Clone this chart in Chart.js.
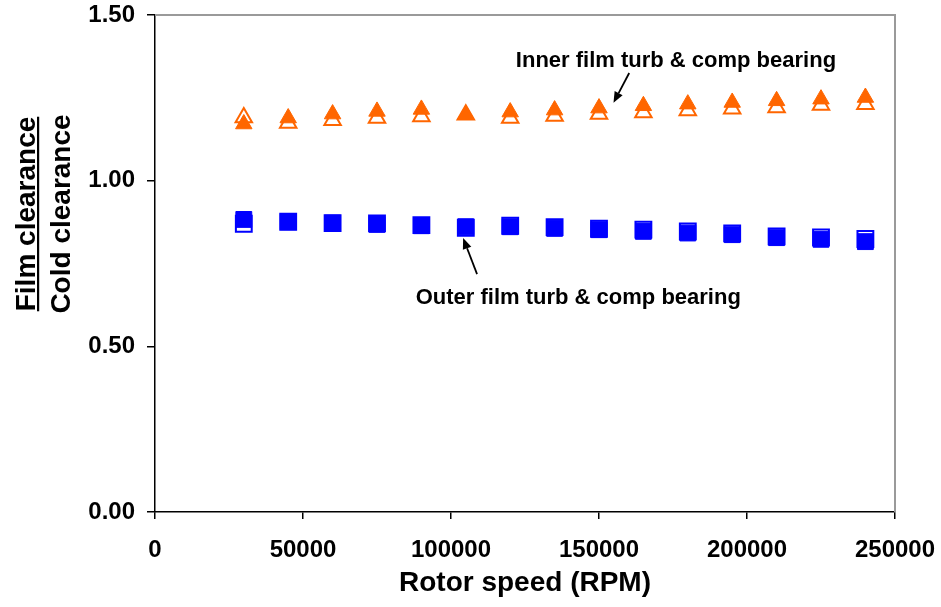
<!DOCTYPE html>
<html>
<head>
<meta charset="utf-8">
<script src="https://cdn.jsdelivr.net/npm/chart.js@4"></script>
<style>
html,body{margin:0;padding:0;background:#fff;}
#wrap{width:941px;height:607px;position:relative;}
</style>
</head>
<body>
<div id="wrap"><canvas id="c"></canvas></div>
<script>
// ---- data ----
const rpm = [30000,45000,60000,75000,90000,105000,120000,135000,150000,165000,180000,195000,210000,225000,240000];
const innerFilled = [1.171,1.189,1.201,1.209,1.215,1.199,1.207,1.213,1.219,1.226,1.231,1.236,1.241,1.246,1.251];
const innerOpen   = [1.191,1.174,1.182,1.189,1.194,1.199,1.189,1.195,1.201,1.206,1.212,1.217,1.221,1.228,1.231];
const outerFilled = [0.883,0.876,0.872,0.868,0.864,0.861,0.861,0.856,0.852,0.847,0.842,0.837,0.828,0.823,0.816];
const outerOpen   = [0.870,0.876,0.872,0.871,0.866,0.858,0.864,0.860,0.855,0.852,0.847,0.841,0.832,0.829,0.824];
const xTicks = [0,50000,100000,150000,200000,250000];
const yTicks = [0,0.5,1.0,1.5];
const xTitle = "Rotor speed (RPM)";
const yTitleTop = "Film clearance";
const yTitleBottom = "Cold clearance";
const labels = [
  {text:"Inner film turb & comp bearing", x:176000, y:1.361, tail:[160200,1.325], tip:[154900,1.235]},
  {text:"Outer film turb & comp bearing", x:143000, y:0.646, tail:[108800,0.718], tip:[104100,0.827]}
];

const ORANGE = '#FF6600', BLUE = '#0000FF';
const pts = arr => arr.map((v,i)=>({x:rpm[i], y:v}));

const extras = {
  id:'extras',
  afterDraw(chart){
    const ctx = chart.ctx, a = chart.chartArea;
    const xs = chart.scales.x, ys = chart.scales.y;
    ctx.save();
    // grey frame top/right
    ctx.strokeStyle = '#9a9a9a'; ctx.lineWidth = 2;
    ctx.beginPath();
    ctx.moveTo(a.left, a.top); ctx.lineTo(a.right, a.top); ctx.lineTo(a.right, a.bottom);
    ctx.stroke();
    // y title
    ctx.fillStyle = '#000';
    ctx.font = 'bold 28px "Liberation Sans", Arial, sans-serif';
    ctx.textAlign = 'center'; ctx.textBaseline = 'alphabetic';
    const cy = 214;
    ctx.save();
    ctx.translate(35, cy); ctx.rotate(-Math.PI/2);
    ctx.fillText(yTitleTop, 0, 0);
    const w = ctx.measureText(yTitleTop).width;
    ctx.fillRect(-w/2, 2, w, 2.2);
    ctx.restore();
    ctx.save();
    ctx.translate(70, cy); ctx.rotate(-Math.PI/2);
    ctx.fillText(yTitleBottom, 0, 0);
    ctx.restore();
    // annotations
    ctx.font = 'bold 22px "Liberation Sans", Arial, sans-serif';
    ctx.textBaseline = 'middle';
    labels.forEach(l=>{
      ctx.fillText(l.text, xs.getPixelForValue(l.x), ys.getPixelForValue(l.y));
      const x0 = xs.getPixelForValue(l.tail[0]), y0 = ys.getPixelForValue(l.tail[1]);
      const x1 = xs.getPixelForValue(l.tip[0]), y1 = ys.getPixelForValue(l.tip[1]);
      const ang = Math.atan2(y1-y0, x1-x0);
      const hl = 11, hw = 4.5;
      const bx = x1 - hl*Math.cos(ang), by = y1 - hl*Math.sin(ang);
      ctx.strokeStyle = '#000'; ctx.lineWidth = 1.8;
      ctx.beginPath(); ctx.moveTo(x0,y0); ctx.lineTo(bx,by); ctx.stroke();
      ctx.beginPath();
      ctx.moveTo(x1,y1);
      ctx.lineTo(bx + hw*Math.sin(ang), by - hw*Math.cos(ang));
      ctx.lineTo(bx - hw*Math.sin(ang), by + hw*Math.cos(ang));
      ctx.closePath(); ctx.fill();
    });
    ctx.restore();
  }
};

const tickFont = {family:'"Liberation Sans", Arial, sans-serif', size:24, weight:'bold'};
const zeroPad = s => { s.paddingTop = 0; s.paddingBottom = 0; s.paddingLeft = 0; s.paddingRight = 0; };

new Chart(document.getElementById('c'), {
  type:'scatter',
  data:{
    datasets:[
      {label:'Inner filled', data:pts(innerFilled), pointStyle:'triangle', radius:9.5, backgroundColor:ORANGE, borderColor:ORANGE, borderWidth:1},
      {label:'Outer filled', data:pts(outerFilled), pointStyle:'rect', radius:11.2, backgroundColor:BLUE, borderColor:BLUE, borderWidth:1},
      {label:'Inner open', data:pts(innerOpen), pointStyle:'triangle', radius:9.5, backgroundColor:'#fff', borderColor:ORANGE, borderWidth:2},
      {label:'Outer open', data:pts(outerOpen), pointStyle:'rect', radius:11.2, backgroundColor:'#fff', borderColor:BLUE, borderWidth:2}
    ]
  },
  options:{
    responsive:true, maintainAspectRatio:false, animation:false,
    layout:{padding:{top:15, right:46, left:0, bottom:0}},
    plugins:{legend:{display:false}, tooltip:{enabled:false}},
    elements:{point:{hoverRadius:9.5}},
    scales:{
      x:{
        type:'linear', min:0, max:250000,
        afterBuildTicks: s => { s.ticks = xTicks.map(v=>({value:v})); },
        afterFit: s => { s.height = 95; zeroPad(s); },
        grid:{drawOnChartArea:false, drawTicks:true, tickLength:7, color:'#000', lineWidth:1.5},
        border:{color:'#000', width:1.5},
        ticks:{font:tickFont, color:'#000', padding:17, maxRotation:0, callback:v=>String(v)},
        title:{display:true, text:xTitle, color:'#000', font:{family:'"Liberation Sans", Arial, sans-serif', size:28, weight:'bold'}, padding:{top:0,bottom:7}}
      },
      y:{
        type:'linear', min:0, max:1.5,
        afterBuildTicks: s => { s.ticks = yTicks.map(v=>({value:v})); },
        afterFit: s => { s.width = 155; zeroPad(s); },
        grid:{drawOnChartArea:false, drawTicks:true, tickLength:8, color:'#000', lineWidth:1.5},
        border:{color:'#000', width:1.5},
        ticks:{font:tickFont, color:'#000', padding:12, callback:v=>Number(v).toFixed(2)}
      }
    }
  },
  plugins:[extras]
});
</script>
</body>
</html>
